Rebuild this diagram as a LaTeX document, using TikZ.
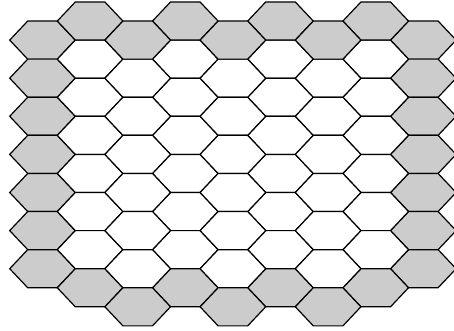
\documentclass[tikz,border=0pt]{standalone}
\newcommand\myhex[3]{%
  \pgfmathsetmacro\hcx{42.5+47.6*#1}%
  \pgfmathsetmacro\hcy{2+19.05*#2}%
  \path[#3] (\hcx-32.8,\hcy) -- (\hcx-14.8,\hcy-19.05) -- (\hcx+14.8,\hcy-19.05)
    -- (\hcx+32.8,\hcy) -- (\hcx+14.8,\hcy+19.05) -- (\hcx-14.8,\hcy+19.05) -- cycle;%
}
\begin{document}
\begin{tikzpicture}[x=1pt,y=-1pt,
  wcell/.style={draw=black, line width=1.2pt, line join=miter, fill=white},
  gcell/.style={draw=black, line width=1.2pt, line join=miter, fill=gray!40}]
\useasboundingbox (0,0) rectangle (454,331);
\clip (0,0) rectangle (454,331);
\fill[white] (0,0) rectangle (454,331);
% edge columns
\foreach \c in {0,8} {\foreach \l in {2,4,...,14} {\myhex{\c}{\l}{gcell}}}
% odd columns
\foreach \c in {1,3,5,7} {
  \foreach \l in {3,5,...,13} {\myhex{\c}{\l}{wcell}}
  \myhex{\c}{1}{gcell}
  \myhex{\c}{15}{gcell}
}
% even inner columns
\foreach \c in {2,4,6} {
  \foreach \l in {4,6,...,14} {\myhex{\c}{\l}{wcell}}
  \myhex{\c}{2}{gcell}
  \myhex{\c}{16}{gcell}
}
\end{tikzpicture}
\end{document}
